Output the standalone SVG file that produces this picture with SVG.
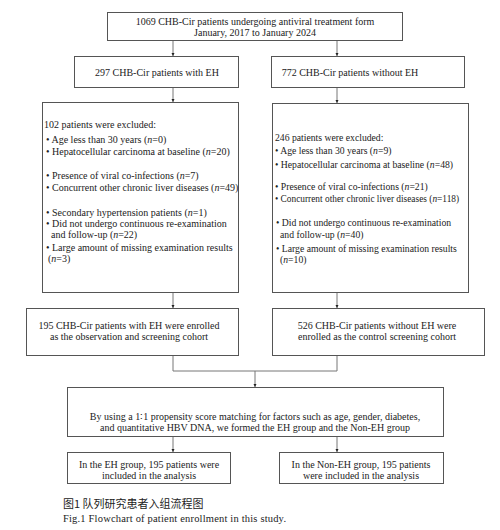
<svg xmlns="http://www.w3.org/2000/svg" width="500" height="530" viewBox="0 0 500 530">
<defs>
<marker id="ah" viewBox="0 0 6 6" refX="6" refY="3" markerWidth="3.5" markerHeight="3.5" orient="auto" markerUnits="userSpaceOnUse">
<path d="M0,0 L6,3 L0,6 Z" fill="#222"/>
</marker>
<style>
.box{fill:#fff;stroke:#555;stroke-width:1}
.t{font-family:"Liberation Serif","Times New Roman",serif;font-size:10px;fill:#222}
.r{font-size:9.7px}
.s{font-size:9.35px}
.c{text-anchor:middle}
.ln{fill:none;stroke:#777;stroke-width:1}
.cap{font-family:"Liberation Serif",serif;font-size:10.5px;fill:#222}
.capz{font-family:"Noto Sans CJK SC",sans-serif;font-size:11px;fill:#222}
</style>
</defs>
<rect width="500" height="530" fill="#fff"/>
<g id="connectors">
<line class="ln" x1="173" y1="40" x2="173" y2="56" marker-end="url(#ah)"/>
<line class="ln" x1="337" y1="40" x2="337" y2="56" marker-end="url(#ah)"/>
<line class="ln" x1="173" y1="88" x2="173" y2="102" marker-end="url(#ah)"/>
<line class="ln" x1="337" y1="88" x2="337" y2="103" marker-end="url(#ah)"/>
<line class="ln" x1="173" y1="292" x2="173" y2="308" marker-end="url(#ah)"/>
<line class="ln" x1="337" y1="292" x2="337" y2="308" marker-end="url(#ah)"/>
<polyline class="ln" points="173,355 173,371 337,371 337,355"/>
<line class="ln" x1="255" y1="371" x2="255" y2="387" marker-end="url(#ah)"/>
<line class="ln" x1="173" y1="436" x2="173" y2="452" marker-end="url(#ah)"/>
<line class="ln" x1="337" y1="436" x2="337" y2="452" marker-end="url(#ah)"/>
</g>
<g id="n-start">
<rect class="box" x="107.5" y="12.5" width="295" height="28"/>
<text class="t c" x="255" y="25">1069 CHB-Cir patients undergoing antiviral treatment form</text>
<text class="t c" x="255" y="36">January, 2017 to January 2024</text>
</g>
<g id="n-eh">
<rect class="box" x="74.5" y="56.5" width="164" height="31"/>
<text class="t c" x="157" y="76">297 CHB-Cir patients with EH</text>
</g>
<g id="n-noneh">
<rect class="box" x="271.5" y="56.5" width="193" height="31"/>
<text class="t c" x="350" y="76">772 CHB-Cir patients without EH</text>
</g>
<g id="n-excl-eh">
<rect class="box" x="42.5" y="102.5" width="196" height="190"/>
<text class="t" x="44" y="128">102 patients were excluded:</text>
<text class="t" x="46" y="143">• Age less than 30 years (<tspan font-style="italic">n</tspan>=0)</text>
<text class="t" x="46" y="155">• Hepatocellular carcinoma at baseline (<tspan font-style="italic">n</tspan>=20)</text>
<text class="t" x="46" y="179">• Presence of viral co-infections (<tspan font-style="italic">n</tspan>=7)</text>
<text class="t" x="46" y="191">• Concurrent other chronic liver diseases (<tspan font-style="italic">n</tspan>=49)</text>
<text class="t" x="46" y="216">• Secondary hypertension patients (<tspan font-style="italic">n</tspan>=1)</text>
<text class="t" x="46" y="227">• Did not undergo continuous re-examination</text>
<text class="t" x="51" y="238">and follow-up (<tspan font-style="italic">n</tspan>=22)</text>
<text class="t" x="46" y="251">• Large amount of missing examination results</text>
<text class="t" x="48" y="262">(<tspan font-style="italic">n</tspan>=3)</text>
</g>
<g id="n-excl-noneh">
<rect class="box" x="272.5" y="103.5" width="196" height="189"/>
<text class="t r" x="275" y="141">246 patients were excluded:</text>
<text class="t r" x="275" y="154">• Age less than 30 years (<tspan font-style="italic">n</tspan>=9)</text>
<text class="t r" x="275" y="168">• Hepatocellular carcinoma at baseline (<tspan font-style="italic">n</tspan>=48)</text>
<text class="t r" x="275" y="190">• Presence of viral co-infections (<tspan font-style="italic">n</tspan>=21)</text>
<text class="t s" x="275" y="202">• Concurrent other chronic liver diseases (<tspan font-style="italic">n</tspan>=118)</text>
<text class="t r" x="276" y="226">• Did not undergo continuous re-examination</text>
<text class="t r" x="280" y="238">and follow-up (<tspan font-style="italic">n</tspan>=40)</text>
<text class="t r" x="276" y="252">• Large amount of missing examination results</text>
<text class="t r" x="280" y="263">(<tspan font-style="italic">n</tspan>=10)</text>
</g>
<g id="n-cohort-eh">
<rect class="box" x="26.5" y="308.5" width="212" height="47"/>
<text class="t c" x="129" y="329">195 CHB-Cir patients with EH were enrolled</text>
<text class="t c" x="129" y="340">as the observation and screening cohort</text>
</g>
<g id="n-cohort-noneh">
<rect class="box" x="272.5" y="308.5" width="212" height="47"/>
<text class="t c" x="377" y="329">526 CHB-Cir patients without EH were</text>
<text class="t c" x="377" y="340">enrolled as the control screening cohort</text>
</g>
<g id="n-psm">
<rect class="box" x="67.5" y="387.5" width="376" height="49"/>
<text class="t c" x="255" y="420">By using a 1∶1 propensity score matching for factors such as age, gender, diabetes,</text>
<text class="t c" x="255" y="431">and quantitative HBV DNA, we formed the EH group and the Non-EH group</text>
</g>
<g id="n-final-eh">
<rect class="box" x="67.5" y="452.5" width="163" height="31"/>
<text class="t c" x="149" y="468">In the EH group, 195 patients were</text>
<text class="t c" x="149" y="479">included in the analysis</text>
</g>
<g id="n-final-noneh">
<rect class="box" x="279.5" y="452.5" width="164" height="31"/>
<text class="t c" x="361" y="468">In the Non-EH group, 195 patients</text>
<text class="t c" x="361" y="479">were included in the analysis</text>
</g>
<g id="caption">
<text class="capz" x="63" y="508">图1 队列研究患者入组流程图</text>
<text class="cap" x="63" y="522" textLength="223" lengthAdjust="spacing">Fig.1  Flowchart of patient enrollment in this study.</text>
</g>
</svg>
